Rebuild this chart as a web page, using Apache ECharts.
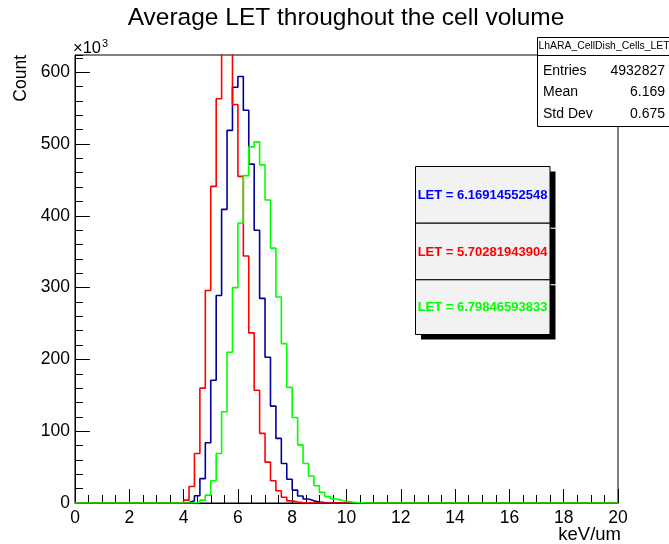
<!DOCTYPE html>
<html><head><meta charset="utf-8">
<script src="https://cdn.jsdelivr.net/npm/echarts@6/dist/echarts.min.js"></script>
<style>html,body{margin:0;padding:0;background:#fff}#c{width:669px;height:544px}</style>
</head><body><div id="c"></div>
<script>
// ---- data (counts in units of 10^3) ----
const xMin = 0, xMax = 20, binWidth = 0.2;
const xTicks = [0, 2, 4, 6, 8, 10, 12, 14, 16, 18, 20];
const yTicks = [0, 100, 200, 300, 400, 500, 600];
const yMax = 624;
const blueStart = 4.0;
const blueCounts = [0.8, 3, 10, 34, 84, 171, 289, 409, 519, 579, 594, 547, 472, 380, 285, 203, 135, 90, 55, 33, 18, 9.7, 5.5, 3, 1.5, 0.7, 0.3];
const redStart = 3.8;
const redCounts = [0.5, 4, 23, 69, 160, 296, 441, 563, 685, 705, 555, 455, 344, 237, 157, 97, 57, 31, 17, 8, 3, 1.5, 0.6, 0.2];
const greenStart = 4.4;
const greenCounts = [1, 4, 11, 31, 69, 127, 210, 300, 390, 456, 496, 503, 471, 422, 355, 287, 222, 161, 119, 81, 55, 37.6, 24, 15, 9, 6, 4, 2.5, 1.5, 0.8, 0.4];
const titleText = 'Average LET throughout the cell volume';
const statsName = 'LhARA_CellDish_Cells_LET';
const statsRows = [['Entries', '4932827'], ['Mean', '6.169'], ['Std Dev', '0.675']];
const legendTexts = ['LET = 6.16914552548', 'LET = 5.70281943904', 'LET = 6.79846593833'];
const colors = {blue: '#000099', red: '#ff0000', green: '#00ff00'};
const legendColors = ['#0000ff', '#ff0000', '#00ff00'];

const nBins = Math.round((xMax - xMin) / binWidth);
function histData(start, counts) {
  const s = Math.round((start - xMin) / binWidth);
  const out = [];
  for (let i = 0; i < nBins; i++) {
    const k = i - s;
    out.push([Math.round((xMin + i * binWidth) * 10) / 10, (k >= 0 && k < counts.length) ? counts[k] : 0]);
  }
  out.push([xMax, 0]);
  return out;
}

const FONT = '"Liberation Sans", Arial, Helvetica, sans-serif';
const chart = echarts.init(document.getElementById('c'), null, {renderer: 'canvas'});

const graphics = [];
// title
graphics.push({type: 'text', x: 346, y: 18, style: {text: titleText, font: '24.5px ' + FONT, fill: '#000', align: 'center', verticalAlign: 'middle'}});
// y title
graphics.push({type: 'text', x: 12, y: 55, rotation: Math.PI / 2, style: {text: 'Count', font: '17.5px ' + FONT, fill: '#000', align: 'right', verticalAlign: 'top'}});
// x title
graphics.push({type: 'text', x: 621, y: 535, style: {text: 'keV/um', font: '18.5px ' + FONT, fill: '#000', align: 'right', verticalAlign: 'middle'}});
// x10^3
graphics.push({type: 'text', x: 73, y: 48, style: {text: '{a|×10}{b|3}', verticalAlign: 'middle', rich: {a: {font: '16.5px ' + FONT, fill: '#000'}, b: {font: '11px ' + FONT, fill: '#000', verticalAlign: 'top', padding: [0, 0, 8, 1]}}}});
// stats box
graphics.push({type: 'rect', shape: {x: 537.5, y: 37.5, width: 140, height: 89}, style: {fill: '#fff', stroke: '#000', lineWidth: 1}, z: 10});
graphics.push({type: 'line', shape: {x1: 537.5, y1: 55.5, x2: 669, y2: 55.5}, style: {stroke: '#000', lineWidth: 1}, z: 11});
graphics.push({type: 'text', x: 538.5, y: 46.5, style: {text: statsName, font: '10.4px ' + FONT, fill: '#000', verticalAlign: 'middle'}, z: 11});
const rowY = [71, 92.5, 114];
statsRows.forEach((r, i) => {
  graphics.push({type: 'text', x: 543, y: rowY[i], style: {text: r[0], font: '14px ' + FONT, fill: '#000', verticalAlign: 'middle'}, z: 11});
  graphics.push({type: 'text', x: 665, y: rowY[i], style: {text: r[1], font: '14px ' + FONT, fill: '#000', verticalAlign: 'middle', align: 'right'}, z: 11});
});
// legend boxes
const boxY = [166, 222.7, 279.3, 334];
for (let i = 0; i < 3; i++) {
  const y0 = boxY[i], h = boxY[i + 1] - boxY[i];
  graphics.push({type: 'rect', shape: {x: 421, y: y0 + 5.5, width: 134.5, height: h}, style: {fill: '#000'}, z: 10});
}
for (let i = 0; i < 3; i++) {
  const y0 = boxY[i], h = boxY[i + 1] - boxY[i];
  graphics.push({type: 'rect', shape: {x: 415.5, y: y0 + 0.5, width: 134.5, height: h}, style: {fill: '#f2f2f2', stroke: '#000', lineWidth: 1}, z: 11});
  graphics.push({type: 'text', x: 482.5, y: y0 + h / 2 + 1, style: {text: legendTexts[i], font: 'bold 13px ' + FONT, fill: legendColors[i], align: 'center', verticalAlign: 'middle'}, z: 12});
}
[228.2, 284.8].forEach(y => graphics.push({type: 'line', shape: {x1: 550, y1: y, x2: 556, y2: y}, style: {stroke: '#fff', lineWidth: 1}, z: 10}));

const mkSeries = (name, data, color) => ({
  name, type: 'line', step: 'end', data, symbol: 'none', clip: true,
  lineStyle: {color, width: 1.6}, itemStyle: {color}, animation: false, silent: true
});

chart.setOption({
  animation: false,
  backgroundColor: '#fff',
  grid: {left: 75, top: 55, width: 543, height: 448, show: true, borderColor: '#000', borderWidth: 1, backgroundColor: 'transparent'},
  xAxis: {
    type: 'value', min: xMin, max: xMax, interval: 2,
    axisLine: {show: true, lineStyle: {color: '#000', width: 1}},
    axisTick: {show: true, inside: true, length: 14, lineStyle: {color: '#000'}},
    minorTick: {show: true, splitNumber: 4, length: 8, lineStyle: {color: '#000'}},
    splitLine: {show: false},
    axisLabel: {color: '#000', fontFamily: FONT, fontSize: 17.5, margin: 6,
      formatter: v => xTicks.includes(v) ? String(v) : ''}
  },
  yAxis: [{
    type: 'value', min: 0, max: yMax, interval: 100,
    axisLine: {show: true, lineStyle: {color: '#000', width: 1}},
    axisTick: {show: true, inside: true, length: 15, lineStyle: {color: '#000'}},
    splitLine: {show: false},
    axisLabel: {color: '#000', fontFamily: FONT, fontSize: 17.5, margin: 5, showMaxLabel: false,
      formatter: v => yTicks.includes(v) ? String(v) : ''}
  }, {
    type: 'value', min: 0, max: yMax, interval: 20, position: 'left',
    axisLine: {show: false},
    axisTick: {show: true, inside: true, length: 8, lineStyle: {color: '#000'}},
    splitLine: {show: false}, axisLabel: {show: false}
  }],
  series: [
    mkSeries('blue', histData(blueStart, blueCounts), colors.blue),
    mkSeries('red', histData(redStart, redCounts), colors.red),
    mkSeries('green', histData(greenStart, greenCounts), colors.green)
  ],
  graphic: graphics
});
</script></body></html>
